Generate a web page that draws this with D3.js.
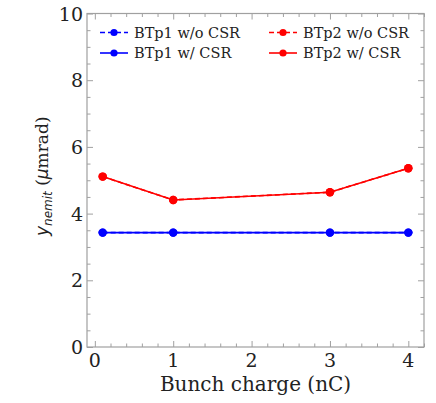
<!DOCTYPE html>
<html>
<head>
<meta charset="utf-8">
<script src="https://cdn.jsdelivr.net/npm/d3@7"></script>
<style>
  html, body { margin: 0; padding: 0; background: #fff; }
  svg { display: block; }
</style>
</head>
<body>
<script>
// ---- data ----
const charges = [0.1, 1, 3, 4];
const btp1NoCSR = [3.43, 3.43, 3.43, 3.43];
const btp1CSR   = [3.43, 3.43, 3.43, 3.43];
const btp2NoCSR = [5.11, 4.41, 4.64, 5.36];
const btp2CSR   = [5.11, 4.41, 4.64, 5.36];
const xTicks = [0, 1, 2, 3, 4];
const yTicks = [0, 2, 4, 6, 8, 10];
const seriesNames = ["BTp1 w/o CSR", "BTp2 w/o CSR", "BTp1 w/ CSR", "BTp2 w/ CSR"];

const W = 436, H = 403;
const L = 87, R = 424, T = 13.5, B = 347;
const svg = d3.select("body").append("svg").attr("width", W).attr("height", H);
svg.append("rect").attr("width", W).attr("height", H).attr("fill", "#fff");

const x = d3.scaleLinear().domain([-0.1, 4.2]).range([L, R]);
const y = d3.scaleLinear().domain([0, 10]).range([B, T]);

const axisColor = "#a0a0a0";
const serif = "'DejaVu Serif', serif";
const sans = "'DejaVu Sans', sans-serif";

// ticks (inward on all four sides)
const xMinor = d3.range(0, 4.2001, 0.2).filter(v => Math.abs(v - Math.round(v)) > 1e-6);
const yMinor = d3.range(0, 10.0001, 0.5).filter(v => Math.abs(v % 2) > 1e-6);
function tickAxis(axisGen, ticks, size, transform) {
  const g = svg.append("g").attr("transform", transform)
    .call(axisGen.tickValues(ticks).tickSize(size).tickFormat(""));
  g.select(".domain").remove();
  g.selectAll("line").attr("stroke", axisColor).attr("stroke-width", 1);
}
tickAxis(d3.axisTop(x), xTicks, 6, `translate(0,${B})`);
tickAxis(d3.axisTop(x), xMinor, 3.5, `translate(0,${B})`);
tickAxis(d3.axisBottom(x), xTicks, 6, `translate(0,${T})`);
tickAxis(d3.axisBottom(x), xMinor, 3.5, `translate(0,${T})`);
tickAxis(d3.axisRight(y), yTicks, 6, `translate(${L},0)`);
tickAxis(d3.axisRight(y), yMinor, 3.5, `translate(${L},0)`);
tickAxis(d3.axisLeft(y), yTicks, 6, `translate(${R},0)`);
tickAxis(d3.axisLeft(y), yMinor, 3.5, `translate(${R},0)`);

// frame
svg.append("rect").attr("x", L).attr("y", T).attr("width", R - L).attr("height", B - T)
  .attr("fill", "none").attr("stroke", axisColor).attr("stroke-width", 1.2);

// tick labels
svg.append("g").selectAll("text").data(xTicks).join("text")
  .attr("x", d => x(d)).attr("y", 366.5).attr("text-anchor", "middle")
  .attr("font-family", serif).attr("font-size", 19).attr("fill", "#222").text(d => d);
svg.append("g").selectAll("text").data(yTicks).join("text")
  .attr("x", 83).attr("y", d => y(d) + 7).attr("text-anchor", "end")
  .attr("font-family", serif).attr("font-size", 19).attr("fill", "#222").text(d => d);

// axis labels
svg.append("text").attr("x", (L + R) / 2).attr("y", 390.5).attr("text-anchor", "middle")
  .attr("font-family", serif).attr("font-size", 20).attr("fill", "#222").text("Bunch charge (nC)");
const yl = svg.append("text").attr("transform", `translate(48,${(T + B) / 2 - 4}) rotate(-90)`)
  .attr("text-anchor", "middle").attr("font-size", 17).attr("fill", "#222");
yl.append("tspan").attr("font-family", sans).attr("font-style", "italic").text("y");
yl.append("tspan").attr("font-family", sans).attr("font-style", "italic").attr("font-size", 12)
  .attr("dy", 3.5).text("nemit");
yl.append("tspan").attr("font-family", serif).attr("dy", -3.5).text(" (");
yl.append("tspan").attr("font-family", sans).attr("font-style", "italic").text("μ");
yl.append("tspan").attr("font-family", serif).text("mrad)");

// series
const series = [
  { vals: btp1NoCSR, color: "#0000ff", dash: "5,3" },
  { vals: btp2NoCSR, color: "#ff0000", dash: "5,3" },
  { vals: btp1CSR, color: "#0000ff", dash: null },
  { vals: btp2CSR, color: "#ff0000", dash: null },
];
const line = d3.line().x(d => x(d[0])).y(d => y(d[1]));
series.forEach(s => {
  const pts = charges.map((c, i) => [c, s.vals[i]]);
  svg.append("path").datum(pts).attr("d", line).attr("fill", "none")
    .attr("stroke", s.color).attr("stroke-width", 1.6)
    .attr("stroke-dasharray", s.dash);
  svg.append("g").selectAll("circle").data(pts).join("circle")
    .attr("cx", d => x(d[0])).attr("cy", d => y(d[1])).attr("r", 4.2).attr("fill", s.color);
});

// legend
const legPos = [[100, 32.5], [269, 32.5], [100, 53], [269, 53]];
series.forEach((s, i) => {
  const [lx, ly] = legPos[i];
  const g = svg.append("g").attr("transform", `translate(${lx},${ly})`);
  g.append("line").attr("x1", 0).attr("x2", 28).attr("y1", 0).attr("y2", 0)
    .attr("stroke", s.color).attr("stroke-width", 1.6).attr("stroke-dasharray", s.dash);
  g.append("circle").attr("cx", 14).attr("cy", 0).attr("r", 3.6).attr("fill", s.color);
  g.append("text").attr("x", 34).attr("y", 5).attr("font-family", serif).attr("font-size", 14.5)
    .attr("fill", "#222").text(seriesNames[i]);
});
</script>
</body>
</html>
